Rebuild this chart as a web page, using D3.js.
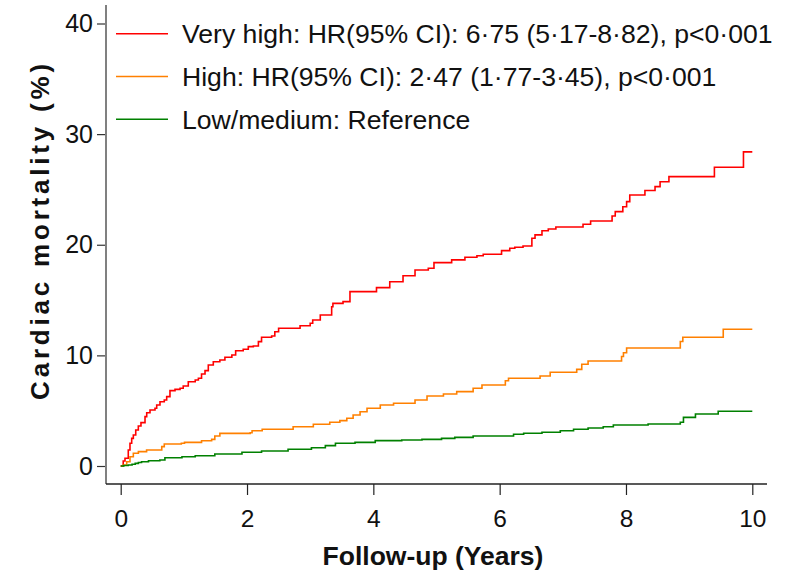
<!DOCTYPE html>
<html>
<head>
<meta charset="utf-8">
<script src="https://cdn.jsdelivr.net/npm/d3@7"></script>
<style>
  html, body { margin: 0; padding: 0; background: #fff; }
  svg { display: block; font-family: "Liberation Sans", Arial, sans-serif; }
</style>
</head>
<body>
<svg id="chart" width="800" height="572"></svg>
<script>
// Cumulative cardiac mortality (%) by follow-up year, step functions per risk group
const veryHighTime = [0, 0.04, 0.068, 0.12, 0.147, 0.174, 0.2, 0.238, 0.279, 0.321, 0.385, 0.412, 0.464, 0.543, 0.57, 0.622, 0.69, 0.728, 0.78, 0.86, 0.94, 0.99, 1.07, 1.18, 1.23, 1.28, 1.335, 1.387, 1.466, 1.57, 1.65, 1.76, 1.82, 1.94, 2.02, 2.10, 2.18, 2.23, 2.39, 2.44, 2.50, 2.84, 3.0, 3.04, 3.16, 3.34, 3.36, 3.52, 3.63, 4.05, 4.26, 4.47, 4.66, 4.87, 4.96, 5.24, 5.45, 5.64, 5.74, 6.03, 6.16, 6.24, 6.37, 6.51, 6.56, 6.67, 6.77, 6.89, 7.32, 7.44, 7.78, 7.83, 7.95, 8.01, 8.06, 8.30, 8.46, 8.54, 8.68, 9.40, 9.86, 10.0];
const veryHighRisk = [0, 0.45, 0.70, 1.45, 2.05, 2.5, 2.8, 3.25, 3.62, 3.92, 4.46, 4.82, 5.06, 5.22, 5.52, 5.81, 5.97, 6.27, 6.81, 6.93, 7.03, 7.23, 7.62, 7.78, 7.93, 8.32, 8.62, 9.13, 9.43, 9.58, 9.83, 10.04, 10.42, 10.55, 10.79, 10.85, 11.24, 11.64, 11.75, 12.14, 12.45, 12.68, 12.9, 13.2, 13.65, 14.4, 14.7, 14.86, 15.76, 16.12, 16.66, 17.2, 17.72, 17.88, 18.38, 18.63, 18.87, 19.01, 19.14, 19.47, 19.68, 19.77, 19.89, 20.59, 20.89, 21.27, 21.43, 21.61, 21.85, 22.15, 22.6, 22.99, 23.44, 23.9, 24.5, 24.9, 25.25, 25.7, 26.16, 27.0, 28.4, 28.4];

const highTime = [0, 0.04, 0.095, 0.147, 0.2, 0.28, 0.41, 0.65, 0.69, 0.96, 1.01, 1.28, 1.44, 1.49, 1.57, 2.05, 2.08, 2.24, 2.73, 3.05, 3.31, 3.47, 3.58, 3.68, 3.79, 3.9, 4.11, 4.32, 4.66, 4.85, 5.11, 5.32, 5.58, 5.72, 6.09, 6.14, 6.64, 6.80, 7.22, 7.30, 7.40, 7.93, 7.96, 8.01, 8.86, 8.90, 9.54, 10.0];
const highRisk = [0, 0.09, 0.39, 0.84, 1.15, 1.3, 1.45, 1.75, 1.99, 2.05, 2.14, 2.28, 2.41, 2.71, 2.95, 3.01, 3.19, 3.32, 3.55, 3.77, 3.95, 4.1, 4.31, 4.61, 4.91, 5.22, 5.52, 5.67, 5.97, 6.33, 6.51, 6.72, 7.03, 7.32, 7.71, 7.93, 8.14, 8.47, 8.73, 9.2, 9.49, 9.9, 10.24, 10.67, 11.26, 11.64, 12.36, 12.36];

const lowTime = [0, 0.05, 0.12, 0.18, 0.23, 0.28, 0.33, 0.44, 0.62, 0.70, 0.97, 1.18, 1.49, 1.92, 2.23, 2.65, 3.02, 3.24, 3.40, 3.71, 4.03, 4.45, 4.77, 5.08, 5.29, 5.58, 6.22, 6.38, 6.67, 6.96, 7.17, 7.40, 7.64, 7.80, 8.35, 8.86, 8.91, 9.10, 9.46, 10.0];
const lowRisk = [0, 0.04, 0.09, 0.16, 0.24, 0.31, 0.39, 0.48, 0.54, 0.75, 0.84, 0.93, 1.08, 1.24, 1.36, 1.51, 1.65, 1.84, 2.05, 2.14, 2.29, 2.35, 2.41, 2.5, 2.59, 2.71, 2.87, 2.96, 3.05, 3.19, 3.32, 3.44, 3.55, 3.71, 3.8, 3.95, 4.4, 4.7, 4.95, 4.95];

const seriesNames = [
  "Very high: HR(95% CI): 6·75 (5·17-8·82), p<0·001",
  "High: HR(95% CI): 2·47 (1·77-3·45), p<0·001",
  "Low/medium: Reference"
];
const seriesColors = ["#ff0000", "#ff8000", "#008000"];
const xTicks = [0, 2, 4, 6, 8, 10];
const yTicks = [0, 10, 20, 30, 40];

const series = [
  { name: seriesNames[0], color: seriesColors[0], t: veryHighTime, v: veryHighRisk },
  { name: seriesNames[1], color: seriesColors[1], t: highTime, v: highRisk },
  { name: seriesNames[2], color: seriesColors[2], t: lowTime, v: lowRisk }
];

const svg = d3.select("#chart");

// Plot region edges (axis lines run along these)
const plotLeft = 106, plotRight = 767, plotTop = 5, plotBottom = 484;

const x = d3.scaleLinear().domain([0, 10]).range([120.7, 752.3]);
const y = d3.scaleLinear().domain([0, 40]).range([466, 23.5]);

// Y axis
const yAxis = svg.append("g").attr("transform", `translate(${plotLeft},0)`)
  .call(d3.axisLeft(y).tickValues(yTicks).tickSize(9).tickPadding(4));
yAxis.select(".domain").remove();
yAxis.append("line").attr("x1", 0).attr("x2", 0).attr("y1", plotTop).attr("y2", plotBottom)
  .attr("stroke", "#808080").attr("stroke-width", 2);
yAxis.selectAll(".tick line").attr("stroke", "#333").attr("stroke-width", 1.2);
yAxis.selectAll(".tick text").attr("font-size", 25).attr("fill", "#111")
  .attr("font-family", "Liberation Sans, Arial, sans-serif");

// X axis
const xAxis = svg.append("g").attr("transform", `translate(0,${plotBottom})`)
  .call(d3.axisBottom(x).tickValues(xTicks).tickSize(11).tickPadding(15));
xAxis.select(".domain").remove();
xAxis.append("line").attr("x1", plotLeft).attr("x2", plotRight).attr("y1", 0).attr("y2", 0)
  .attr("stroke", "#222").attr("stroke-width", 1.4);
xAxis.selectAll(".tick line").attr("stroke", "#222").attr("stroke-width", 1.2);
xAxis.selectAll(".tick text").attr("font-size", 24.5).attr("fill", "#111")
  .attr("font-family", "Liberation Sans, Arial, sans-serif");

// Step curves
const line = d3.line()
  .x(d => x(d[0]))
  .y(d => y(d[1]))
  .curve(d3.curveStepAfter);

series.forEach(s => {
  const pts = s.t.map((t, i) => [t, s.v[i]]);
  svg.append("path")
    .attr("d", line(pts))
    .attr("fill", "none")
    .attr("stroke", s.color)
    .attr("stroke-width", 1.6);
});

// Legend
const legend = svg.append("g");
series.forEach((s, i) => {
  const ly = 33.7 + i * 42.8;
  legend.append("line").attr("x1", 116).attr("x2", 168).attr("y1", ly).attr("y2", ly)
    .attr("stroke", s.color).attr("stroke-width", 1.6);
  legend.append("text").attr("x", 182).attr("y", ly + 9.5)
    .attr("font-size", 26.6).attr("fill", "#111").text(s.name);
});

// Axis titles
svg.append("text")
  .attr("x", 433).attr("y", 565)
  .attr("text-anchor", "middle")
  .attr("font-size", 26.5).attr("font-weight", "bold").attr("fill", "#111")
  .text("Follow-up (Years)");

svg.append("text")
  .attr("transform", "translate(49,230) rotate(-90)")
  .attr("text-anchor", "middle")
  .attr("font-size", 26).attr("font-weight", "bold").attr("fill", "#111")
  .attr("letter-spacing", 3.8)
  .text("Cardiac mortality (%)");
</script>
</body>
</html>
